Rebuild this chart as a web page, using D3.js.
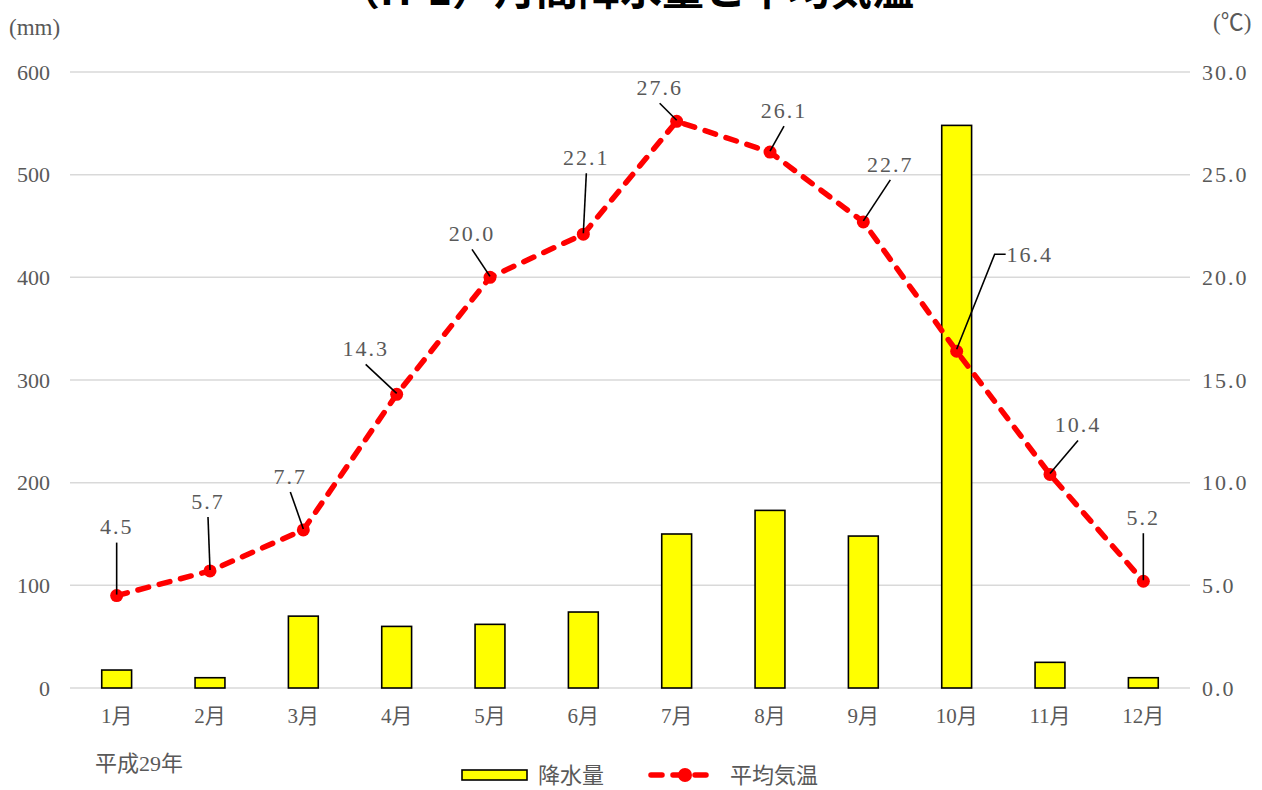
<!DOCTYPE html>
<html><head><meta charset="utf-8">
<script src="https://cdn.jsdelivr.net/npm/d3@7"></script>
<style>
html,body{margin:0;padding:0;background:#fff;}
svg{display:block;}
</style></head>
<body>
<svg id="chart" width="1262" height="790"></svg>
<script>
const title = "（H-1）月間降水量と平均気温";
const months = ["1月","2月","3月","4月","5月","6月","7月","8月","9月","10月","11月","12月"];
const rainfall = [17.5, 10, 70, 60, 62, 74, 150, 173, 148, 548, 25, 10];
const temperature = [4.5, 5.7, 7.7, 14.3, 20.0, 22.1, 27.6, 26.1, 22.7, 16.4, 10.4, 5.2];
const leftTicks = [0, 100, 200, 300, 400, 500, 600];
const rightTicks = [0, 5, 10, 15, 20, 25, 30];
const seriesNames = ["降水量", "平均気温"];
// label placement offsets (px) relative to each point
const labelOffsets = [[0,-69],[-2,-70],[-13,-54],[-31,-46],[-18,-44],[3,-77],[-17,-34],[14,-42],[27,-58],[73,-97],[28,-50],[0,-64]];

const svg = d3.select("#chart");
const gray = "#595959";
const numFont = "'Liberation Serif','Noto Sans CJK JP',serif";
const jpFont = "'Noto Sans CJK JP','Liberation Serif',sans-serif";

const pLeft = 70, pRight = 1190, pTop = 72, pBottom = 688;
const x = d3.scaleBand().domain(months).range([pLeft, pRight]).paddingInner(0.68).paddingOuter(0.34);
const yL = d3.scaleLinear().domain([0, 600]).range([pBottom, pTop]);
const yR = d3.scaleLinear().domain([0, 30]).range([pBottom, pTop]);
const cx = m => x(m) + x.bandwidth() / 2;

// title (partly cropped at top, as in the source image)
svg.append("text").attr("x", 626).attr("y", 5).attr("text-anchor", "middle")
  .attr("font-family", jpFont).attr("font-weight", "bold").attr("font-size", 42)
  .attr("fill", "#000").text(title);

// gridlines
svg.append("g").selectAll("line").data(leftTicks).join("line")
  .attr("x1", pLeft).attr("x2", pRight)
  .attr("y1", d => yL(d)).attr("y2", d => yL(d))
  .attr("stroke", "#d9d9d9").attr("stroke-width", 1.5);

// left axis
const axL = svg.append("g").attr("transform", `translate(${pLeft},0)`)
  .call(d3.axisLeft(yL).tickValues(leftTicks).tickSize(0).tickPadding(20).tickFormat(d3.format("d")));
axL.select(".domain").remove();
axL.selectAll("text").attr("font-family", numFont).attr("font-size", 22).attr("fill", gray);

// right axis
const axR = svg.append("g").attr("transform", `translate(${pRight},0)`)
  .call(d3.axisRight(yR).tickValues(rightTicks).tickSize(0).tickPadding(12).tickFormat(d3.format(".1f")));
axR.select(".domain").remove();
axR.selectAll("text").attr("font-family", numFont).attr("font-size", 22).attr("fill", gray).attr("letter-spacing", 2);

// x axis
const axX = svg.append("g").attr("transform", `translate(0,${pBottom})`)
  .call(d3.axisBottom(x).tickSize(0).tickPadding(20));
axX.select(".domain").remove();
axX.selectAll("text").attr("font-family", numFont).attr("font-size", 21).attr("fill", gray);

// axis units
svg.append("text").attr("x", 9).attr("y", 35).attr("font-family", numFont).attr("font-size", 23).attr("fill", gray).text("(mm)");
svg.append("text").attr("x", 1213).attr("y", 30).attr("font-family", numFont).attr("font-size", 23).attr("fill", gray).text("(℃)");
svg.append("text").attr("x", 95).attr("y", 771).attr("font-family", numFont).attr("font-size", 22).attr("fill", gray).text("平成29年");

// bars
svg.append("g").selectAll("rect").data(rainfall).join("rect")
  .attr("x", (d, i) => x(months[i])).attr("width", x.bandwidth())
  .attr("y", d => yL(d)).attr("height", d => yL(0) - yL(d))
  .attr("fill", "#ffff00").attr("stroke", "#000").attr("stroke-width", 1.6);

// line
const line = d3.line().x((d, i) => cx(months[i])).y(d => yR(d));
svg.append("path").datum(temperature).attr("d", line)
  .attr("fill", "none").attr("stroke", "#ff0000").attr("stroke-width", 5.5)
  .attr("stroke-dasharray", "11,11").attr("stroke-linecap", "round");
svg.append("g").selectAll("circle").data(temperature).join("circle")
  .attr("cx", (d, i) => cx(months[i])).attr("cy", d => yR(d)).attr("r", 6.5).attr("fill", "#ff0000");

// data labels with leaders
const lg = svg.append("g");
temperature.forEach((v, i) => {
  const px = cx(months[i]), py = yR(v);
  const lx = px + labelOffsets[i][0], ly = py + labelOffsets[i][1];
  if (i === 9) {
    const sx = lx - 35;
    lg.append("path").attr("d", `M${sx + 11},${ly} L${sx},${ly} L${px},${py - 2}`)
      .attr("fill", "none").attr("stroke", "#000").attr("stroke-width", 1.6);
  } else {
    lg.append("line").attr("x1", lx).attr("y1", ly + 16).attr("x2", px).attr("y2", py - 1)
      .attr("stroke", "#000").attr("stroke-width", 1.6);
  }
  lg.append("text").attr("x", lx).attr("y", ly).attr("dy", "0.35em").attr("text-anchor", "middle")
    .attr("font-family", numFont).attr("font-size", 22).attr("fill", gray).attr("letter-spacing", 2)
    .text(d3.format(".1f")(v));
});

// legend
const leg = svg.append("g");
leg.append("rect").attr("x", 462).attr("y", 770).attr("width", 65).attr("height", 10)
  .attr("fill", "#ffff00").attr("stroke", "#000").attr("stroke-width", 1.6);
leg.append("text").attr("x", 538).attr("y", 775).attr("dy", "0.35em")
  .attr("font-family", jpFont).attr("font-size", 22).attr("fill", gray).text(seriesNames[0]);
leg.append("line").attr("x1", 651).attr("x2", 711).attr("y1", 775).attr("y2", 775)
  .attr("stroke", "#ff0000").attr("stroke-width", 5.5).attr("stroke-dasharray", "11,11").attr("stroke-linecap", "round");
leg.append("circle").attr("cx", 685).attr("cy", 775).attr("r", 7).attr("fill", "#ff0000");
leg.append("text").attr("x", 730).attr("y", 775).attr("dy", "0.35em")
  .attr("font-family", jpFont).attr("font-size", 22).attr("fill", gray).text(seriesNames[1]);
</script>
</body></html>
